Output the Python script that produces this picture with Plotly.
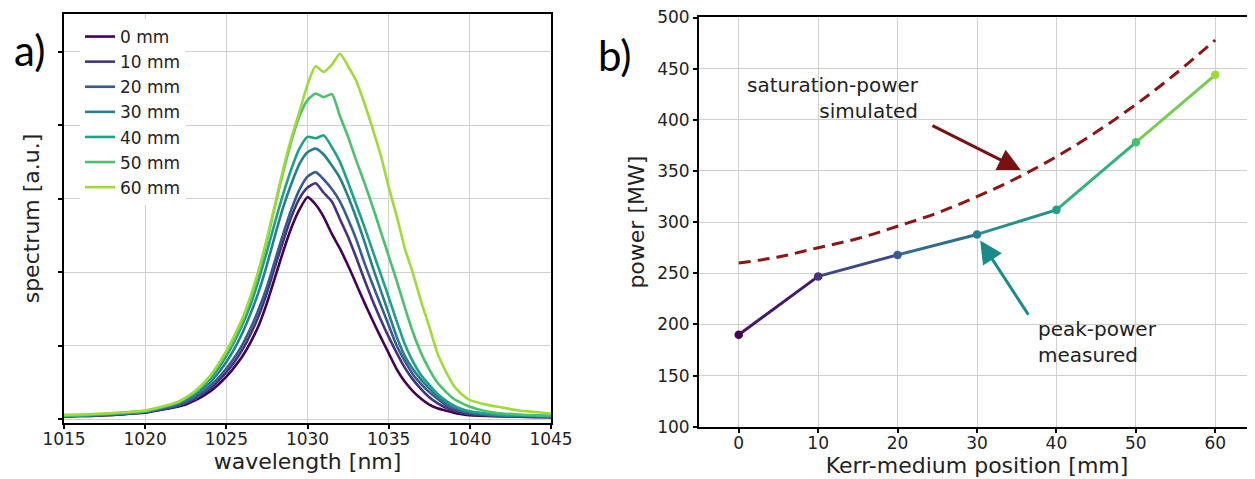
import plotly.graph_objects as go

# ---------------- data: panel a) spectra ----------------
wavelength_nm = [1015, 1016, 1017, 1018, 1019, 1020, 1021,
                 1022, 1022.5, 1023, 1023.5, 1024, 1024.5, 1025, 1025.5, 1026, 1026.5,
                 1027, 1027.5, 1028, 1028.5, 1029, 1029.5, 1030, 1030.5, 1031, 1031.5,
                 1032, 1032.5, 1033, 1033.5, 1034, 1034.5, 1035, 1035.5, 1036, 1036.5,
                 1037, 1037.5, 1038, 1038.5, 1039, 1039.5, 1040,
                 1041, 1042, 1043, 1044, 1045]

spec_0mm = [0.04, 0.045, 0.05, 0.06, 0.075, 0.09, 0.13,
            0.17, 0.20, 0.25, 0.31, 0.38, 0.47, 0.58, 0.71, 0.86, 1.05,
            1.28, 1.58, 1.93, 2.28, 2.60, 2.85, 3.02, 2.92, 2.75, 2.52,
            2.32, 2.09, 1.84, 1.59, 1.35, 1.12, 0.90, 0.68, 0.51, 0.38,
            0.28, 0.20, 0.15, 0.12, 0.09, 0.07, 0.055,
            0.045, 0.04, 0.035, 0.03, 0.03]
spec_10mm = [0.04, 0.045, 0.05, 0.06, 0.075, 0.095, 0.135,
             0.18, 0.22, 0.27, 0.34, 0.42, 0.52, 0.64, 0.78, 0.95, 1.16,
             1.41, 1.72, 2.08, 2.42, 2.75, 3.00, 3.15, 3.21, 3.08, 2.96,
             2.72, 2.48, 2.20, 1.90, 1.62, 1.36, 1.12, 0.90, 0.70, 0.54,
             0.41, 0.30, 0.22, 0.16, 0.12, 0.09, 0.07,
             0.055, 0.045, 0.04, 0.035, 0.03]
spec_20mm = [0.045, 0.05, 0.055, 0.065, 0.08, 0.10, 0.14,
             0.19, 0.235, 0.29, 0.36, 0.45, 0.56, 0.69, 0.84, 1.02, 1.24,
             1.50, 1.80, 2.16, 2.52, 2.85, 3.12, 3.30, 3.36, 3.26, 3.13,
             2.96, 2.72, 2.45, 2.13, 1.84, 1.56, 1.28, 1.00, 0.79, 0.61,
             0.48, 0.37, 0.28, 0.20, 0.15, 0.11, 0.085,
             0.06, 0.05, 0.045, 0.04, 0.035]
spec_30mm = [0.045, 0.05, 0.06, 0.07, 0.085, 0.105, 0.15,
             0.21, 0.26, 0.32, 0.40, 0.50, 0.63, 0.78, 0.96, 1.18, 1.44,
             1.74, 2.10, 2.50, 2.88, 3.20, 3.47, 3.63, 3.68, 3.60, 3.45,
             3.28, 3.03, 2.74, 2.42, 2.08, 1.76, 1.44, 1.12, 0.86, 0.68,
             0.54, 0.42, 0.31, 0.23, 0.17, 0.13, 0.10,
             0.07, 0.055, 0.05, 0.045, 0.04]
spec_40mm = [0.05, 0.055, 0.065, 0.075, 0.09, 0.11, 0.16,
             0.22, 0.28, 0.35, 0.44, 0.55, 0.69, 0.86, 1.06, 1.29, 1.56,
             1.90, 2.28, 2.68, 3.06, 3.40, 3.68, 3.84, 3.82, 3.86, 3.70,
             3.50, 3.22, 2.92, 2.62, 2.30, 1.98, 1.66, 1.33, 1.02, 0.78,
             0.60, 0.47, 0.35, 0.26, 0.19, 0.14, 0.11,
             0.08, 0.06, 0.055, 0.05, 0.045]
spec_50mm = [0.05, 0.055, 0.065, 0.08, 0.095, 0.115, 0.165,
             0.23, 0.29, 0.36, 0.46, 0.58, 0.73, 0.90, 1.10, 1.34, 1.64,
             2.00, 2.42, 2.90, 3.36, 3.78, 4.12, 4.34, 4.43, 4.38, 4.42,
             4.12, 3.84, 3.52, 3.22, 2.90, 2.56, 2.22, 1.88, 1.52, 1.18,
             0.90, 0.68, 0.50, 0.38, 0.28, 0.22, 0.17,
             0.11, 0.08, 0.065, 0.055, 0.05]
spec_60mm = [0.06, 0.065, 0.075, 0.085, 0.10, 0.12, 0.17,
             0.235, 0.295, 0.37, 0.47, 0.59, 0.75, 0.93, 1.14, 1.38, 1.68,
             2.04, 2.46, 2.92, 3.40, 3.82, 4.18, 4.55, 4.80, 4.72, 4.82,
             4.97, 4.80, 4.60, 4.30, 3.96, 3.60, 3.16, 2.76, 2.32, 1.98,
             1.60, 1.26, 0.90, 0.66, 0.46, 0.34, 0.26,
             0.20, 0.16, 0.12, 0.10, 0.08]

spectra = [spec_0mm, spec_10mm, spec_20mm, spec_30mm, spec_40mm, spec_50mm, spec_60mm]
spectrum_labels = ["0 mm", "10 mm", "20 mm", "30 mm", "40 mm", "50 mm", "60 mm"]
wl_ticks = [1015, 1020, 1025, 1030, 1035, 1040, 1045]
spec_ticks = [0, 1, 2, 3, 4, 5]

# ---------------- data: panel b) power ----------------
kerr_pos_mm = [0, 10, 20, 30, 40, 50, 60]
peak_power_MW = [190, 247, 268, 288, 312, 378, 444]
sim_pos_mm = [0, 5, 10, 15, 20, 25, 30, 35, 40, 45, 50, 55, 60]
sat_power_MW = [260, 266, 275, 284, 296, 309, 325, 343, 364, 388, 415, 445, 478]
pos_ticks = [0, 10, 20, 30, 40, 50, 60]
power_ticks = [100, 150, 200, 250, 300, 350, 400, 450, 500]

# ---------------- styling ----------------
colors = ['#440154', '#46327e', '#365c8d', '#277f8e', '#1fa187', '#4ac16d', '#a0da39']
FONT = "DejaVu Sans"
TXT = "#222222"
GRID = "#d0d0d0"
W, H = 1255, 479
OFF = 8  # page body margin offset


def px(x):
    return (x - OFF) / W


def py(y):
    return 1 - (y - OFF) / H


def mix(c1, c2):
    a = [int(c1[i:i + 2], 16) for i in (1, 3, 5)]
    b = [int(c2[i:i + 2], 16) for i in (1, 3, 5)]
    return "#" + "".join(f"{(x + y) // 2:02x}" for x, y in zip(a, b))


fig = go.Figure()

for s, lab, c in zip(spectra, spectrum_labels, colors):
    fig.add_trace(go.Scatter(x=wavelength_nm, y=s, mode="lines", name=lab,
                             line=dict(color=c, width=2.6, shape="spline", smoothing=0.6),
                             xaxis="x", yaxis="y"))

# saturation power (dashed)
fig.add_trace(go.Scatter(x=sim_pos_mm, y=sat_power_MW, mode="lines",
                         line=dict(color="#8c1616", width=3, dash="12px,7px", shape="spline"),
                         showlegend=False, xaxis="x2", yaxis="y2"))

# peak power measured: segments coloured along viridis
for i in range(len(kerr_pos_mm) - 1):
    fig.add_trace(go.Scatter(x=kerr_pos_mm[i:i + 2], y=peak_power_MW[i:i + 2], mode="lines",
                             line=dict(color=mix(colors[i], colors[i + 1]), width=3),
                             showlegend=False, xaxis="x2", yaxis="y2"))
fig.add_trace(go.Scatter(x=kerr_pos_mm, y=peak_power_MW, mode="markers",
                         marker=dict(color=colors, size=8.5),
                         showlegend=False, xaxis="x2", yaxis="y2"))

ax_common = dict(showline=True, linecolor="black", linewidth=2, mirror=True,
                 ticks="outside", ticklen=4, tickwidth=1.5, tickcolor="black",
                 showgrid=True, gridcolor=GRID, gridwidth=1, zeroline=False,
                 ticklabeloverflow="allow",
                 tickfont=dict(family=FONT, size=17, color=TXT))

fig.update_layout(
    width=W, height=H,
    margin=dict(l=0, r=0, t=0, b=0, autoexpand=False),
    paper_bgcolor="white", plot_bgcolor="white",
    font=dict(family=FONT, color=TXT),
    xaxis=dict(domain=[px(64), px(551)], range=[1015, 1045], tickvals=wl_ticks,
               ticklabelstandoff=-4,
               title=dict(text="wavelength [nm]", font=dict(size=22, family=FONT, color=TXT), standoff=0),
               anchor="y", **ax_common),
    yaxis=dict(domain=[py(423), py(14)], range=[-0.05, 5.51], tickvals=spec_ticks,
               showticklabels=False,
               title=dict(text="spectrum [a.u.]", font=dict(size=22, family=FONT, color=TXT), standoff=12),
               anchor="x", **ax_common),
    xaxis2=dict(domain=[px(699), px(1255)], range=[-5, 65], tickvals=pos_ticks,
                ticklabelstandoff=-4,
                title=dict(text="Kerr-medium position [mm]", font=dict(size=22, family=FONT, color=TXT), standoff=0),
                anchor="y2", **ax_common),
    yaxis2=dict(domain=[py(427), py(17.3)], range=[99.8, 500.2], tickvals=power_ticks,
                title=dict(text="power [MW]", font=dict(size=22, family=FONT, color=TXT), standoff=6),
                anchor="x2", **ax_common),
    legend=dict(x=px(80), y=py(19), xanchor="left", yanchor="top",
                bgcolor="white", borderwidth=0,
                font=dict(family=FONT, size=17, color=TXT),
                tracegroupgap=0),
)

annotations = [
    dict(text="a)", x=px(29), y=py(50), xref="paper", yref="paper", showarrow=False,
         xanchor="center", yanchor="middle",
         font=dict(family="Lato", size=42, color="black")),
    dict(text="b)", x=px(615), y=py(55), xref="paper", yref="paper", showarrow=False,
         xanchor="center", yanchor="middle",
         font=dict(family="Lato", size=42, color="black")),
    dict(text="saturation-power<br>simulated", x=22.9, y=421, xref="x2", yref="y2",
         xanchor="right", yanchor="middle", align="right", showarrow=False,
         font=dict(family=FONT, size=20, color=TXT)),
    dict(text="peak-power<br>measured", x=37.4, y=183, xref="x2", yref="y2",
         xanchor="left", yanchor="middle", align="left", showarrow=False,
         font=dict(family=FONT, size=20, color=TXT)),
    dict(text="", x=35.5, y=351, ax=24.2, ay=395, xref="x2", yref="y2", axref="x2", ayref="y2",
         showarrow=True, arrowhead=2, arrowsize=1.5, arrowwidth=3, arrowcolor="#7a1010"),
    dict(text="", x=30.4, y=282, ax=36.6, ay=208, xref="x2", yref="y2", axref="x2", ayref="y2",
         showarrow=True, arrowhead=2, arrowsize=1.5, arrowwidth=3, arrowcolor="#1a8a8a"),
]
fig.update_layout(annotations=annotations)

fig.write_html("out.html")
